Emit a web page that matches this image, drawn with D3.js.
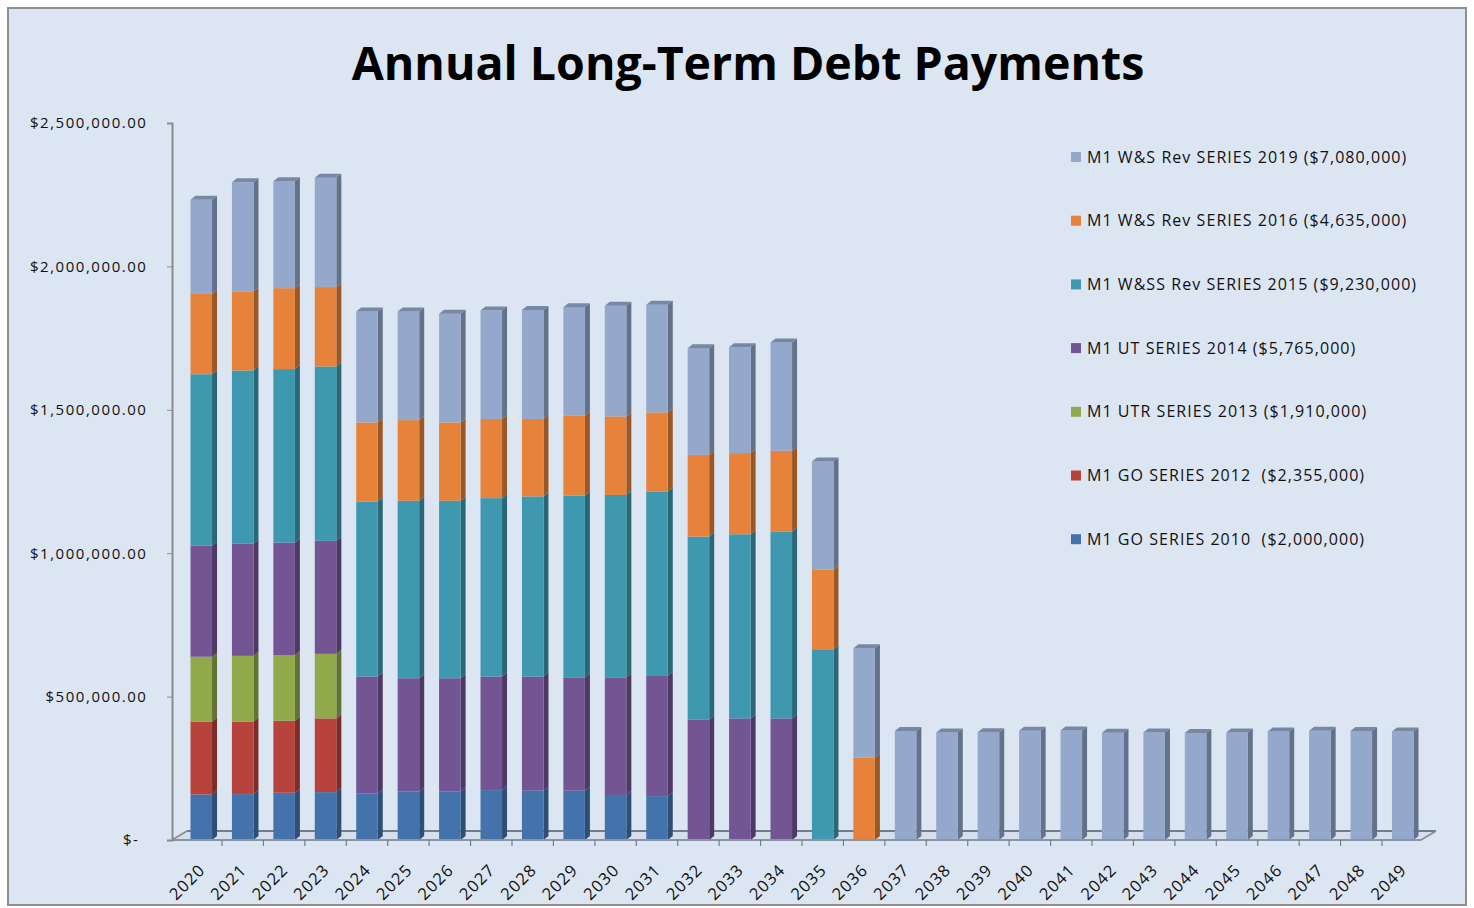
<!DOCTYPE html>
<html>
<head>
<meta charset="utf-8">
<script src="https://cdn.jsdelivr.net/npm/d3@7"></script>
<style>
  html, body { margin: 0; padding: 0; background: #ffffff; }
  svg { display: block; }
</style>
</head>
<body>
<svg id="chart" width="1474" height="908"></svg>
<script>
// ---------------- DATA ----------------
const years = ["2020","2021","2022","2023","2024","2025","2026","2027","2028","2029",
  "2030","2031","2032","2033","2034","2035","2036","2037","2038","2039",
  "2040","2041","2042","2043","2044","2045","2046","2047","2048","2049"];

const go2010  = [159000,160000,165000,167000,163000,169000,169000,174000,172000,172000,
  157000,153000,0,0,0,0,0,0,0,0, 0,0,0,0,0,0,0,0,0,0];
const go2012  = [254000,253000,251000,257000,0,0,0,0,0,0, 0,0,0,0,0,0,0,0,0,0, 0,0,0,0,0,0,0,0,0,0];
const utr2013 = [226000,229000,229000,225000,0,0,0,0,0,0, 0,0,0,0,0,0,0,0,0,0, 0,0,0,0,0,0,0,0,0,0];
const ut2014  = [387000,391000,392000,394000,407000,395000,395000,396000,398000,395000,
  410000,419000,419000,424000,424000,0,0,0,0,0, 0,0,0,0,0,0,0,0,0,0];
const wss2015 = [598000,604000,605000,608000,610000,619000,619000,622000,628000,634000,
  636000,643000,639000,642000,652000,665000,0,0,0,0, 0,0,0,0,0,0,0,0,0,0];
const ws2016  = [280000,276000,282000,277000,276000,281000,273000,276000,270000,278000,
  274000,276000,285000,283000,281000,277000,288000,0,0,0, 0,0,0,0,0,0,0,0,0,0];
const ws2019  = [328000,380000,373000,381000,387000,379000,379000,378000,380000,379000,
  386000,375000,372000,369000,378000,378000,381000,380000,375000,376000,
  381000,382000,374000,375000,373000,375000,378000,381000,380000,378000];

const seriesKeys = ["go2010","go2012","utr2013","ut2014","wss2015","ws2016","ws2019"];
const seriesLabels = [
  "M1 GO SERIES 2010  ($2,000,000)",
  "M1 GO SERIES 2012  ($2,355,000)",
  "M1 UTR SERIES 2013 ($1,910,000)",
  "M1 UT SERIES 2014 ($5,765,000)",
  "M1 W&SS Rev SERIES 2015 ($9,230,000)",
  "M1 W&S Rev SERIES 2016 ($4,635,000)",
  "M1 W&S Rev SERIES 2019 ($7,080,000)"
];
const seriesColors = ["#4473ab","#b8433d","#8fa94b","#725592","#3e98b0","#e6823a","#93a8cb"];
const yTicks = [0, 500000, 1000000, 1500000, 2000000, 2500000];
const titleText = "Annual Long-Term Debt Payments";

// ---------------- BUILD ----------------
const seriesArrays = [go2010, go2012, utr2013, ut2014, wss2015, ws2016, ws2019];
const table = years.map((yr, i) => {
  const row = { year: yr };
  seriesKeys.forEach((k, j) => row[k] = seriesArrays[j][i]);
  return row;
});
const stacked = d3.stack().keys(seriesKeys)(table);

const svg = d3.select("#chart");
const fontLbl = "'Open Sans', 'DejaVu Sans', sans-serif";

// chart frame
svg.append("rect")
  .attr("x", 8).attr("y", 8).attr("width", 1458).attr("height", 897)
  .attr("fill", "#dce6f2").attr("stroke", "#8f8f8f").attr("stroke-width", 2);

// title
svg.append("text")
  .attr("x", 748).attr("y", 80)
  .attr("text-anchor", "middle")
  .attr("font-family", fontLbl)
  .attr("font-weight", 700)
  .attr("font-size", 46.5)
  .attr("fill", "#000")
  .text(titleText);

const x = d3.scaleBand().domain(years).range([176, 1428]).paddingInner(0.48).paddingOuter(0.35);
const y = d3.scaleLinear().domain([0, 2500000]).range([840, 123]);
const bw = x.bandwidth();
const dx = 5, dy = 4;

// floor
const floor = svg.append("g");
floor.append("path")
  .attr("d", `M172,840 L187,831 L1436,831 L1421,840 Z`)
  .attr("fill", "#d5dfeb").attr("stroke", "none");
floor.append("line").attr("x1", 187).attr("x2", 1436).attr("y1", 831).attr("y2", 831)
  .attr("stroke", "#6f7d90").attr("stroke-width", 2);
floor.append("line").attr("x1", 172).attr("x2", 187).attr("y1", 840).attr("y2", 831)
  .attr("stroke", "#8a8a8a").attr("stroke-width", 1.5);
floor.append("line").attr("x1", 1421).attr("x2", 1436).attr("y1", 840).attr("y2", 831)
  .attr("stroke", "#8a8a8a").attr("stroke-width", 1.5);

// bars
const gBars = svg.append("g");
stacked.forEach((s, si) => {
  const col = seriesColors[si];
  const g = gBars.append("g");
  s.forEach((d, i) => {
    if (d[1] - d[0] <= 0) return;
    const x0 = x(years[i]);
    const yTop = y(d[1]), yBot = y(d[0]);
    // side face
    g.append("path")
      .attr("d", `M${x0 + bw},${yBot} L${x0 + bw + dx},${yBot - dy} L${x0 + bw + dx},${yTop - dy} L${x0 + bw},${yTop} Z`)
      .attr("fill", d3.color(col).darker(1.1));
    // front face
    g.append("rect")
      .attr("x", x0).attr("y", yTop)
      .attr("width", bw).attr("height", yBot - yTop)
      .attr("fill", col);
  });
});
// top caps
years.forEach((yr, i) => {
  let topIdx = -1;
  stacked.forEach((s, si) => { if (s[i][1] - s[i][0] > 0) topIdx = si; });
  if (topIdx < 0) return;
  const col = seriesColors[topIdx];
  const x0 = x(yr), yTop = y(stacked[topIdx][i][1]);
  gBars.append("path")
    .attr("d", `M${x0},${yTop} L${x0 + dx},${yTop - dy} L${x0 + bw + dx},${yTop - dy} L${x0 + bw},${yTop} Z`)
    .attr("fill", d3.color(col).darker(0.6));
});

// front axis line with ticks
const frontAxis = svg.append("g");
frontAxis.append("line").attr("x1", 172).attr("x2", 1421).attr("y1", 840).attr("y2", 840)
  .attr("stroke", "#8a96a8").attr("stroke-width", 2);
const step = x.step();
years.forEach((yr, i) => {
  const bx = x(yr) + bw + (step - bw) / 2;
  if (i < years.length - 1)
    frontAxis.append("line").attr("x1", bx).attr("x2", bx).attr("y1", 840).attr("y2", 846)
      .attr("stroke", "#6f7d90").attr("stroke-width", 1.2);
});

// x labels
svg.append("g").selectAll("text").data(years).join("text")
  .attr("transform", d => `translate(${x(d) + bw / 2 + 5},${871}) rotate(-45)`)
  .attr("text-anchor", "end")
  .attr("font-family", fontLbl)
  .attr("font-size", 16.5)
  .attr("letter-spacing", 1.2)
  .attr("fill", "#111")
  .text(d => d);

// y axis
const yAxis = d3.axisLeft(y).tickValues(yTicks).tickSize(5).tickPadding(19.5)
  .tickFormat(v => v === 0 ? "$-" : "$" + d3.format(",.2f")(v));
const gy = svg.append("g").attr("transform", "translate(172,0)").call(yAxis);
gy.select(".domain").attr("stroke", "#8a8a8a").attr("stroke-width", 2);
gy.selectAll(".tick line").attr("stroke", "#8a8a8a");
gy.selectAll(".tick text")
  .attr("font-family", fontLbl)
  .attr("font-size", 15)
  .attr("letter-spacing", 1.55)
  .attr("fill", "#111")
  .attr("dx", d => d === 0 ? -8 : 0);

// legend (top to bottom: reverse of stack order)
const legendOrder = d3.range(seriesKeys.length).reverse();
const gl = svg.append("g");
legendOrder.forEach((si, k) => {
  const cy = 157 + k * 63.7;
  gl.append("rect").attr("x", 1071).attr("y", cy - 5).attr("width", 10).attr("height", 10)
    .attr("fill", seriesColors[si]);
  gl.append("text").attr("x", 1087).attr("y", cy + 5.5)
    .attr("font-family", fontLbl).attr("font-size", 16).attr("letter-spacing", 1.05)
    .attr("fill", "#111")
    .attr("xml:space", "preserve")
    .style("white-space", "pre")
    .text(seriesLabels[si]);
});
</script>
</body>
</html>
